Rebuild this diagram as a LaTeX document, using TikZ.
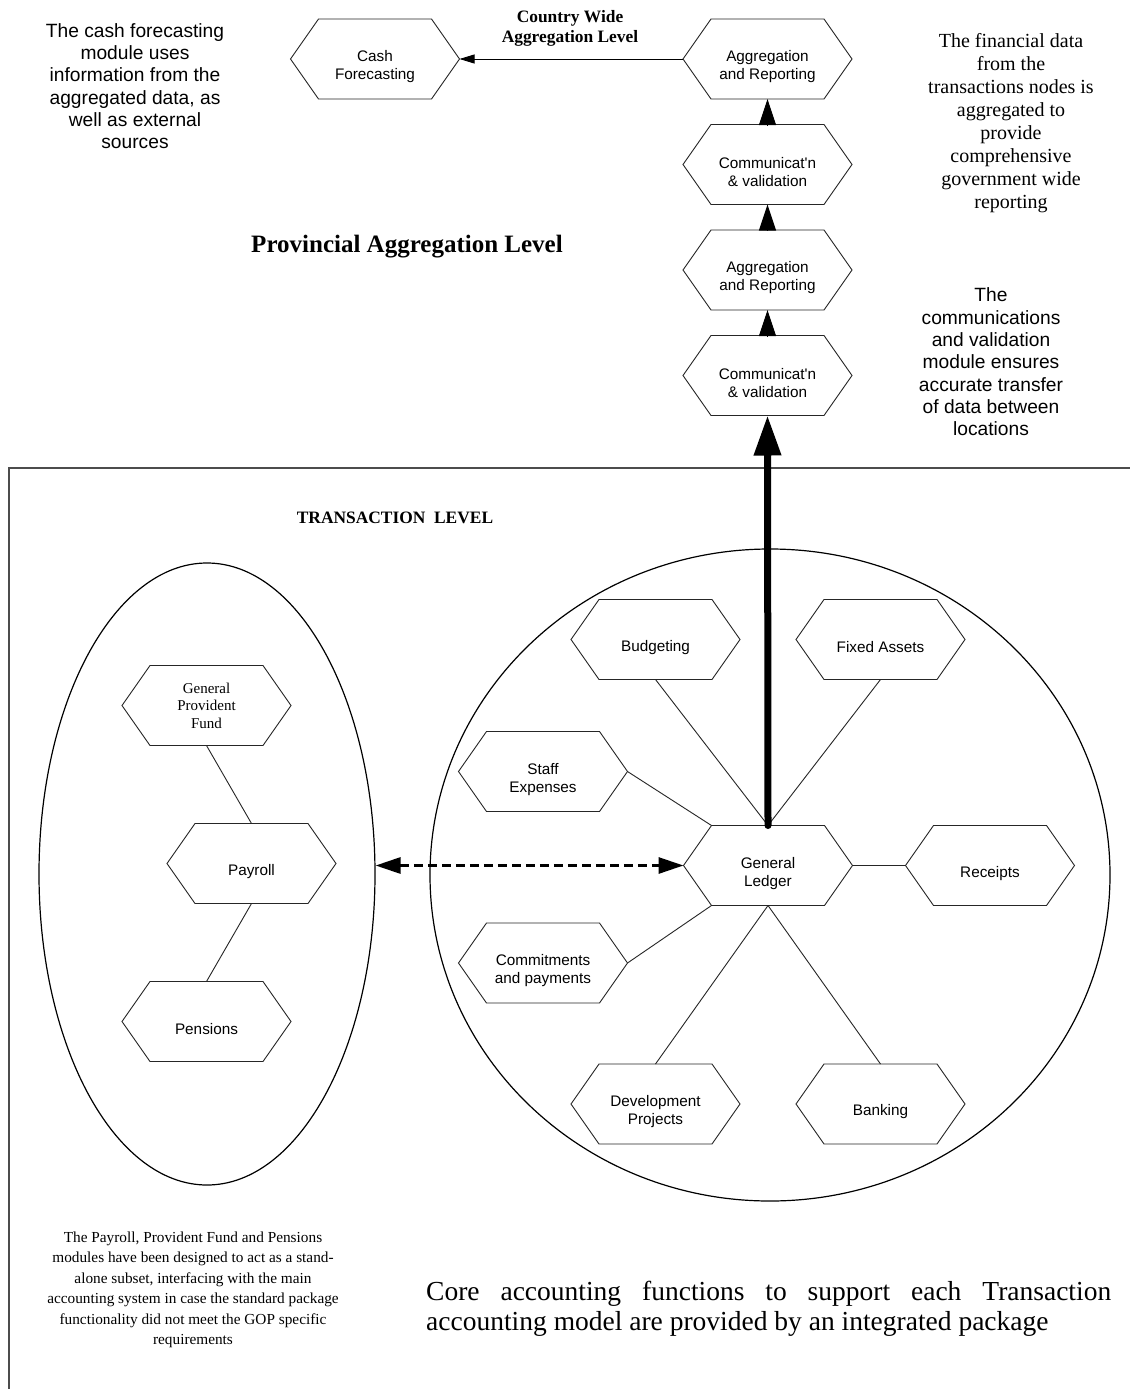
\documentclass[tikz,border=0pt]{standalone}
\usepackage{fontspec}
\setmainfont{Liberation Serif}
\newfontfamily\arialf{Liberation Sans}[Ligatures=TeXOff]
\usetikzlibrary{arrows.meta,shapes.geometric,calc}

\newcommand\hexnode[5]{%
  \node[hexbox] (#1) at (#2,#3) {};
  \draw[hexline] (#1.west) -- ([xshift=28pt]#1.north west) -- ([xshift=-28pt]#1.north east)
     -- (#1.east) -- ([xshift=-28pt]#1.south east) -- ([xshift=28pt]#1.south west) -- cycle;
  \node[#4] (#1-t) at ([yshift=-8pt]#1.center) {#5};
}

\tikzset{
  hexbox/.style={rectangle, minimum width=169pt, minimum height=80pt, inner sep=0pt, outer sep=0pt},
  hexline/.style={line width=0.9pt, draw=black!85, line join=miter},
  hexsans/.style={align=center, font=\arialf\fontsize{15.3}{18}\selectfont, inner sep=0pt},
  hexserif/.style={align=center, font=\fontsize{15}{17.5}\selectfont, inner sep=0pt, yshift=8pt},
  sanstxt/.style={align=center, font=\arialf\fontsize{19.2}{22.3}\selectfont, inner sep=0pt},
  seriftxt/.style={align=center, font=\fontsize{20}{23}\selectfont, inner sep=0pt},
  boldlbl/.style={align=center, font=\bfseries\fontsize{17.4}{20}\selectfont, inner sep=0pt},
  thinline/.style={line width=0.9pt, draw=black!85},
  thinarrow/.style={line width=0.9pt, -{Triangle[length=15pt,width=9pt]}},
  stackarrow/.style={line width=1pt, -{Triangle[length=26pt,width=17pt]}},
  bigarrow/.style={line width=7pt, line cap=round, -{Triangle[length=40pt,width=26pt]}},
  dasharrow/.style={line width=3pt, dash pattern=on 9pt off 5pt,
     {Triangle[length=25pt,width=16pt]}-{Triangle[length=25pt,width=16pt]}},
  oval/.style={draw, ellipse, line width=1.2pt, inner sep=0pt},
  frame/.style={line width=1.2pt, draw=black!70},
}

\begin{document}
\begin{tikzpicture}[x=1pt,y=-1pt]
\useasboundingbox (0,0) rectangle (1130,1389);
\fill[white] (0,0) rectangle (1130,1389);

% transaction frame
\coordinate (fr1) at (9,1389);
\coordinate (fr2) at (9,468);
\coordinate (fr3) at (1130,468);
\draw[frame] (fr1) -- (fr2) -- (fr3);

% ovals
\node[oval, minimum width=336pt, minimum height=622pt] (ell) at (207,874) {};
\node[oval, minimum width=680pt, minimum height=652pt] (cir) at (770,875) {};

% upper column
\hexnode{cf}{375}{59}{hexsans}{Cash\\Forecasting}
\hexnode{a1}{767.5}{59}{hexsans}{Aggregation\\and Reporting}
\hexnode{c1}{767.5}{164.5}{hexsans}{Communicat'n\\\& validation}
\hexnode{a2}{767.5}{270}{hexsans}{Aggregation\\and Reporting}
\hexnode{c2}{767.5}{375.5}{hexsans}{Communicat'n\\\& validation}

% payroll subset
\hexnode{gpf}{206.5}{705.5}{hexserif}{General\\Provident\\Fund}
\hexnode{pay}{251.5}{863.5}{hexsans}{Payroll}
\hexnode{pen}{206.5}{1021.5}{hexsans}{Pensions}

% core package
\hexnode{bud}{655.5}{639.5}{hexsans}{Budgeting}
\hexnode{fa}{880.5}{639.5}{hexsans}{Fixed Assets}
\hexnode{staff}{543}{771.5}{hexsans}{Staff\\Expenses}
\hexnode{gl}{768}{865.5}{hexsans}{General\\Ledger}
\hexnode{rec}{990}{865.5}{hexsans}{Receipts}
\hexnode{com}{543}{963}{hexsans}{Commitments\\and payments}
\hexnode{dev}{655.5}{1104}{hexsans}{Development\\Projects}
\hexnode{bank}{880.5}{1104}{hexsans}{Banking}

% connectors
\draw[thinline] (gpf.south) -- (pay.north);
\draw[thinline] (pay.south) -- (pen.north);
\draw[thinline] (bud.south) -- (gl.north);
\draw[thinline] (fa.south) -- (gl.north);
\draw[thinline] (staff.east) -- ([xshift=28pt]gl.north west);
\draw[thinline] (com.east) -- ([xshift=28pt]gl.south west);
\draw[thinline] (gl.south) -- (dev.north);
\draw[thinline] (gl.south) -- (bank.north);
\draw[thinline] (gl.east) -- (rec.west);

\draw[thinarrow] (a1.west) -- (cf.east);
\draw[stackarrow] (c1.north) -- (a1.south);
\draw[stackarrow] (a2.north) -- (c1.south);
\draw[stackarrow] (c2.north) -- (a2.south);
\draw[bigarrow] (gl.north) -- (c2.south);
\draw[dasharrow] (ell.east |- gl.west) -- (gl.west);

% texts
\node[sanstxt] (t-cash) at (135,86) {The cash forecasting\\module uses\\information from the\\aggregated data, as\\well as external\\sources};
\node[boldlbl] (t-country) at (570,28) {Country Wide\\Aggregation Level};
\node[boldlbl, font=\bfseries\fontsize{25}{28}\selectfont] (t-prov) at (407,247) {Provincial Aggregation Level};
\node[seriftxt] (t-fin) at (1011,123) {The financial data\\from the\\transactions nodes is\\aggregated to\\provide\\comprehensive\\government wide\\reporting};
\node[sanstxt] (t-comm) at (991,362) {The\\communications\\and validation\\module ensures\\accurate transfer\\of data between\\locations};
\node[boldlbl] (t-trans) at (395,518) {TRANSACTION\ \ LEVEL};
\node[align=center, font=\fontsize{15.3}{20.5}\selectfont, inner sep=0pt] (t-pay) at (193,1290) {The Payroll, Provident Fund and Pensions\\modules have been designed to act as a stand-\\alone subset, interfacing with the main\\accounting system in case the standard package\\functionality did not meet the GOP specific\\requirements};
\node[anchor=base west, inner sep=0pt, font=\fontsize{27.5}{30}\selectfont] (t-core) at (426,1300)
  {\parbox[t]{690pt}{\makebox[685pt][s]{Core accounting functions to support each Transaction}\\accounting model are provided by an integrated package}};
\end{tikzpicture}
\end{document}
